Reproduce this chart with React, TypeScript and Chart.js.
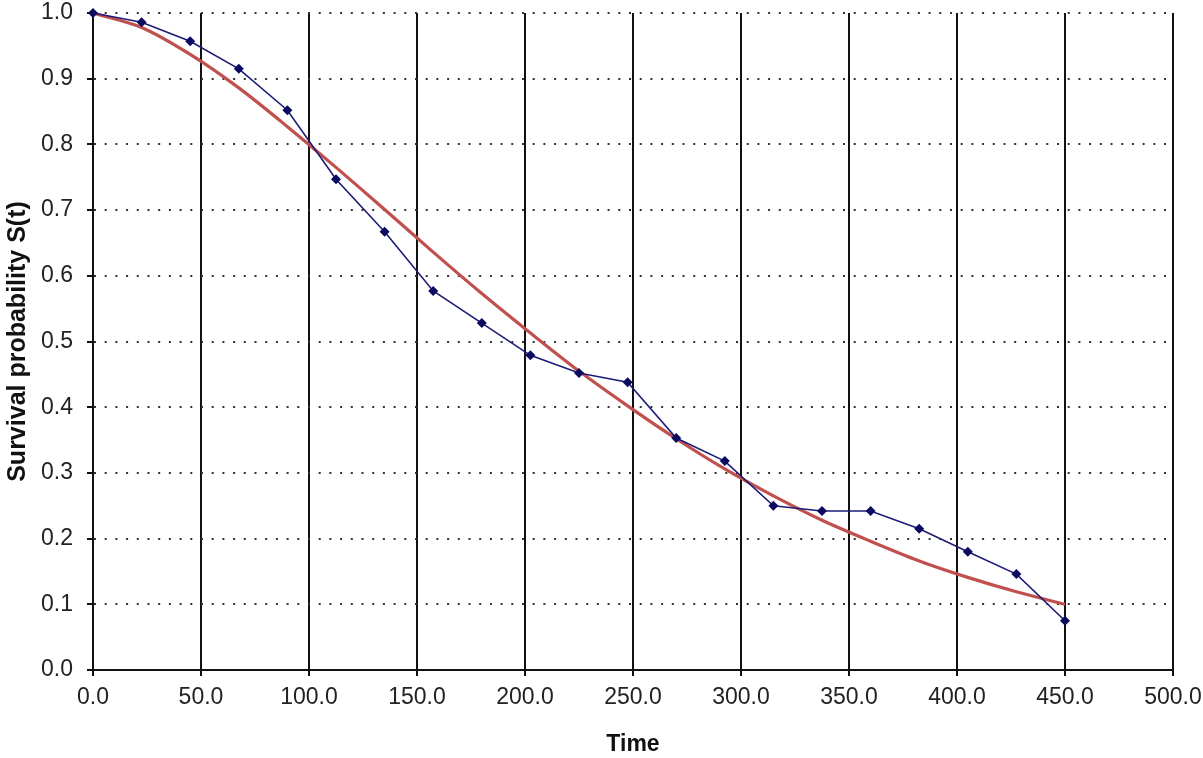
import React, { useEffect, useRef } from "react";
import { Chart, registerables } from "chart.js";

Chart.register(...registerables);

const TIMES = [0, 22.5, 45, 67.5, 90, 112.5, 135, 157.5, 180, 202.5, 225, 247.5, 270, 292.5, 315, 337.5, 360, 382.5, 405, 427.5, 450];
const OBSERVED = [1.0, 0.986, 0.957, 0.915, 0.852, 0.747, 0.667, 0.577, 0.528, 0.479, 0.452, 0.438, 0.353, 0.318, 0.25, 0.242, 0.242, 0.215, 0.18, 0.146, 0.075];
const FITTED = [1.0, 0.978, 0.937, 0.886, 0.827, 0.765, 0.701, 0.636, 0.573, 0.513, 0.455, 0.402, 0.352, 0.306, 0.265, 0.228, 0.196, 0.166, 0.141, 0.119, 0.1];
const X_TICK_LABELS = ["0.0", "50.0", "100.0", "150.0", "200.0", "250.0", "300.0", "350.0", "400.0", "450.0", "500.0"];
const Y_TICK_LABELS = ["0.0", "0.1", "0.2", "0.3", "0.4", "0.5", "0.6", "0.7", "0.8", "0.9", "1.0"];
const X_TITLE = "Time";
const Y_TITLE = "Survival probability S(t)";

const FONT = "'Liberation Sans', Arial, sans-serif";

const zeroPad = (scale: any) => {
  scale.paddingTop = 0;
  scale.paddingBottom = 0;
  scale.paddingLeft = 0;
  scale.paddingRight = 0;
};

export default function App() {
  const ref = useRef<HTMLCanvasElement | null>(null);

  useEffect(() => {
    document.body.style.margin = "0";
    const canvas = ref.current;
    if (!canvas) return;
    const chart = new Chart(canvas, {
      type: "line",
      data: {
        datasets: [
          {
            label: "Observed",
            data: TIMES.map((t, i) => ({ x: t, y: OBSERVED[i] })),
            borderColor: "#1c1c78",
            backgroundColor: "#0a0a60",
            borderWidth: 1.6,
            pointStyle: "rectRot",
            pointRadius: 5,
            pointBorderWidth: 0,
            tension: 0,
            clip: false,
            order: 0,
          },
          {
            label: "Fitted",
            data: TIMES.map((t, i) => ({ x: t, y: FITTED[i] })),
            borderColor: "#c0504d",
            borderWidth: 3.2,
            pointRadius: 0,
            tension: 0.3,
            clip: false,
            order: 1,
          },
        ],
      },
      options: {
        animation: false,
        responsive: false,
        layout: { padding: { left: 0, right: 30, top: 13, bottom: 0 } },
        plugins: { legend: { display: false }, tooltip: { enabled: false } },
        scales: {
          x: {
            type: "linear",
            min: 0,
            max: 500,
            afterBuildTicks: (scale: any) => {
              scale.ticks = X_TICK_LABELS.map((_, i) => ({ value: i * 50 }));
            },
            afterFit: (scale: any) => {
              scale.height = 88;
              zeroPad(scale);
            },
            ticks: {
              callback: (_v: any, i: number) => X_TICK_LABELS[i],
              font: { family: FONT, size: 23 },
              color: "#222",
              padding: 8,
              maxRotation: 0,
              autoSkip: false,
            },
            grid: {
              color: "#111",
              lineWidth: 2,
              tickLength: 6,
              tickColor: "#111",
              tickWidth: 2,
            },
            border: { color: "#111", width: 2 },
            title: {
              display: true,
              text: X_TITLE,
              font: { family: FONT, size: 23, weight: "bold" },
              color: "#111",
              padding: { top: 0, bottom: 0 },
            },
          },
          y: {
            type: "linear",
            min: 0,
            max: 1,
            afterBuildTicks: (scale: any) => {
              scale.ticks = Y_TICK_LABELS.map((_, i) => ({ value: i / 10 }));
            },
            afterFit: (scale: any) => {
              scale.width = 93;
              zeroPad(scale);
            },
            ticks: {
              callback: (_v: any, i: number) => Y_TICK_LABELS[i],
              font: { family: FONT, size: 23 },
              color: "#222",
              padding: 14,
              autoSkip: false,
            },
            grid: {
              color: "#333",
              lineWidth: 2,
              tickLength: 6,
              tickColor: "#111",
              tickWidth: 2,
              tickBorderDash: [],
            },
            border: { color: "#111", width: 2, dash: [2, 8.7] },
            title: {
              display: true,
              text: Y_TITLE,
              font: { family: FONT, size: 25, weight: "bold" },
              color: "#111",
              padding: { top: 3, bottom: 0 },
            },
          },
        },
      },
    });
    return () => chart.destroy();
  }, []);

  return (
    <div style={{ width: 1203, height: 758, background: "#fff" }}>
      <canvas ref={ref} width={1203} height={758} style={{ display: "block", width: 1203, height: 758 }} />
    </div>
  );
}
